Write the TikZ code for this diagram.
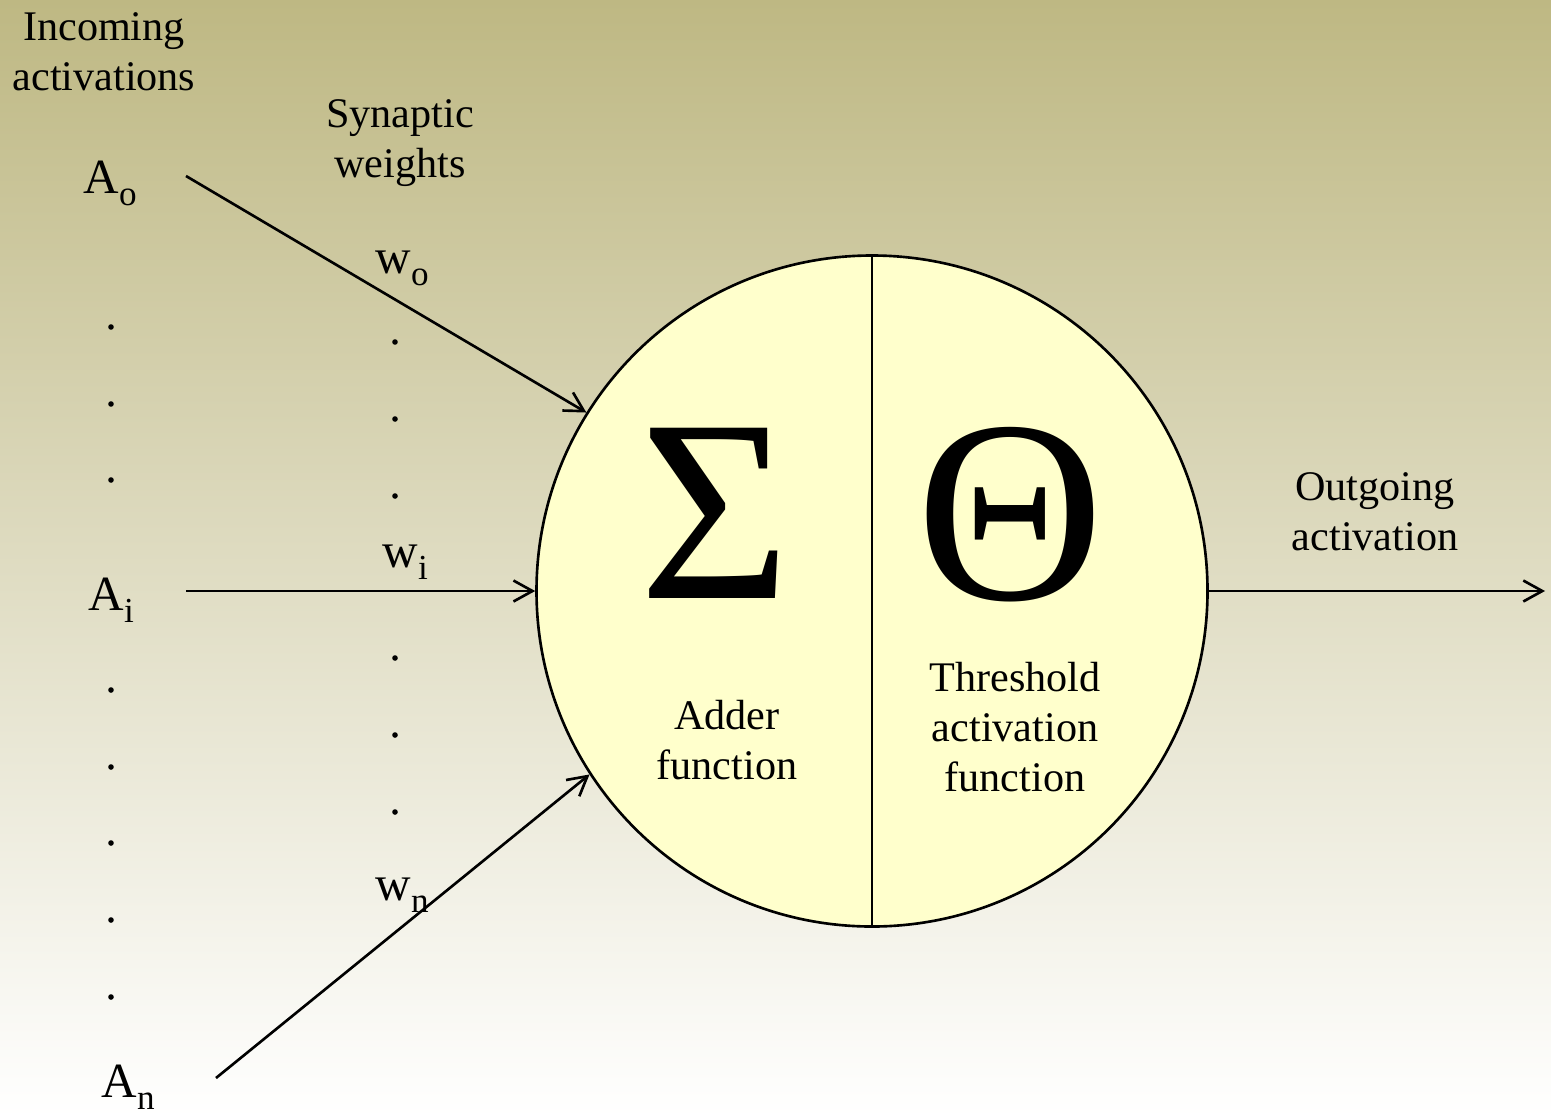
\documentclass[tikz,border=0pt]{standalone}
\usepackage{fontspec}
\setmainfont{Liberation Serif}
\usepackage{tikz}
\usetikzlibrary{arrows.meta}
\definecolor{bgtop}{RGB}{190,184,131}
\definecolor{bgmid}{RGB}{231,229,211}
\definecolor{neuronfill}{RGB}{255,255,204}
\newcommand\sbs[1]{\raisebox{-3.5pt}{\fontsize{10}{12}\selectfont #1}}

\begin{document}
\begin{tikzpicture}[
    lbl/.style={inner sep=0pt, align=center, font=\fontsize{12}{14.2}\selectfont},
    sym/.style={inner sep=0pt, anchor=base west, font=\fontsize{14}{17}\selectfont},
    big/.style={inner sep=0pt, font=\fontsize{74}{80}\selectfont},
    link/.style={line width=0.75pt, -{Straight Barb[length=1.9mm, width=2.1mm]}}
]
    \useasboundingbox (0,0) rectangle (15.51,-11.17);
    \shade[top color=bgtop, middle color=bgmid, bottom color=white] (0,0) rectangle (15.51,-11.17);

    \node[lbl] (incoming) at (1.04,-0.52) {Incoming\\activations};
    \node[lbl] (synaptic) at (4.00,-1.43) {Synaptic\\weights};
    \node[lbl] (outgoing) at (13.75,-5.12) {Outgoing\\activation};

    \node[circle, draw, line width=0.75pt, fill=neuronfill, minimum size=6.71cm, inner sep=0pt] (neuron) at (8.72,-5.91) {};
    \draw[line width=0.75pt] (neuron.north) -- (neuron.south);
    \node[big] (sigma) at (7.15,-5.13) {Σ};
    \node[big] (theta) at (10.10,-5.15) {Θ};
    \node[lbl] (adder) at (7.27,-7.40) {Adder\\function};
    \node[lbl] (threshold) at (10.15,-7.27) {Threshold\\activation\\function};

    \node[sym] (ao) at (0.83,-1.93) {A\sbs{o}};
    \node[sym] (ai) at (0.88,-6.10) {A\sbs{i}};
    \node[sym] (an) at (1.01,-10.97) {A\sbs{n}};
    \node[sym] (wo) at (3.75,-2.73) {w\sbs{o}};
    \node[sym] (wi) at (3.82,-5.67) {w\sbs{i}};
    \node[sym] (wn) at (3.75,-9.00) {w\sbs{n}};

    \foreach\y in{3.27,4.04,4.80,6.90,7.67,8.43,9.20,9.97}{
        \fill (1.11,-\y) circle (0.028);
    }
    \foreach\y in{3.42,4.19,4.96,6.58,7.35,8.12}{
        \fill (3.95,-\y) circle (0.028);
    }

    \coordinate (ao-in) at (1.86,-1.76);
    \coordinate (ai-in) at (1.86,-5.91);
    \coordinate (an-in) at (2.16,-10.78);
    \coordinate (out-end) at (15.45,-5.91);
    \draw[link] (ao-in) -- (neuron.148);
    \draw[link] (ai-in) -- (neuron.west);
    \draw[link] (an-in) -- (neuron.213);
    \draw[link] (neuron.east) -- (out-end);
\end{tikzpicture}
\end{document}
